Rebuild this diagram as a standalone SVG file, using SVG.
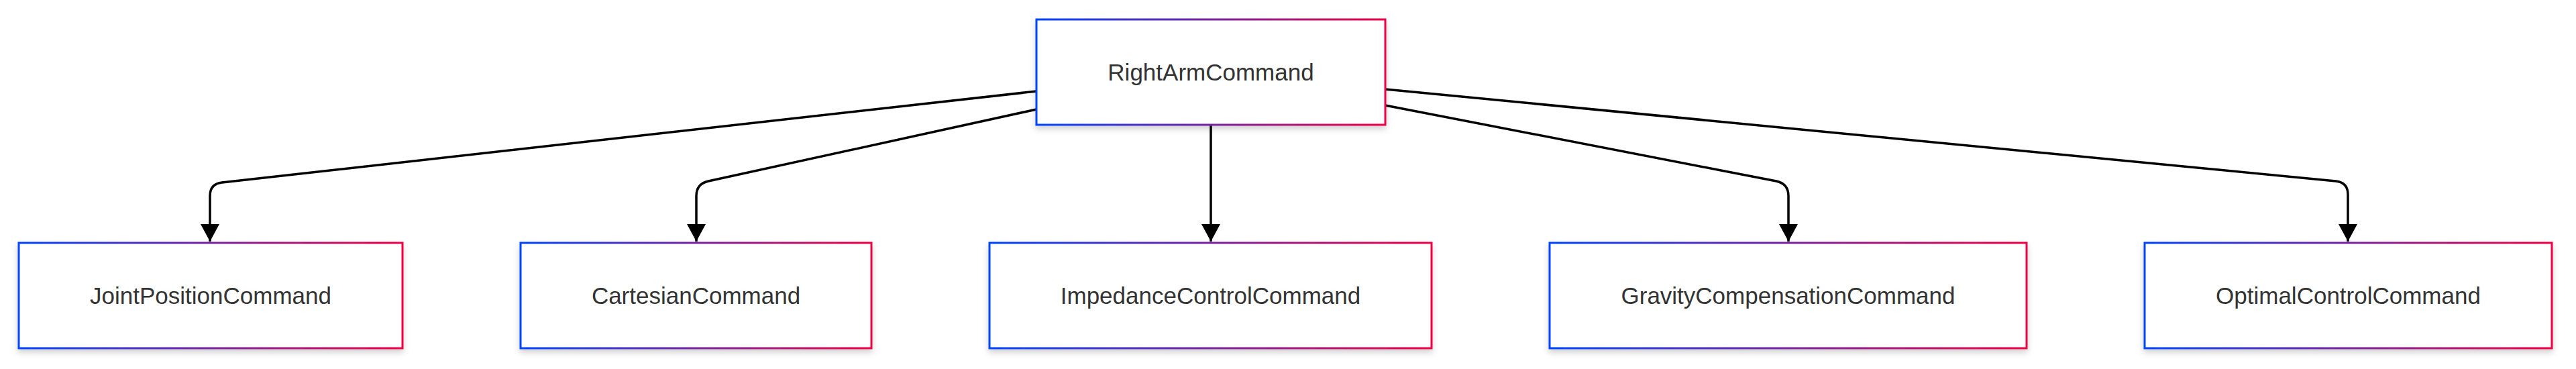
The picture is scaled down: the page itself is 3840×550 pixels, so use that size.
<svg xmlns="http://www.w3.org/2000/svg" width="3840" height="550" viewBox="0 0 3840 550">
  <defs>
    <linearGradient id="border" x1="0" y1="0" x2="1" y2="0">
      <stop offset="0" stop-color="#0044ff"/>
      <stop offset="1" stop-color="#f00044"/>
    </linearGradient>
    <filter id="shadow" x="-10%" y="-20%" width="120%" height="150%">
      <feDropShadow dx="0" dy="5" stdDeviation="5" flood-color="#000" flood-opacity="0.18"/>
    </filter>
    <marker id="arrow" markerUnits="userSpaceOnUse" markerWidth="28" markerHeight="28" refX="26" refY="14" orient="auto">
      <path d="M0,0 L26,14 L0,28 z" fill="#000"/>
    </marker>
  </defs>
  <style>
    .node rect { fill: #ffffff; stroke: url(#border); stroke-width: 3; filter: url(#shadow); }
    .node text { font-family: "Liberation Sans", Arial, sans-serif; font-size: 35px; fill: #333333; text-anchor: middle; }
    .edge { fill: none; stroke: #000; stroke-width: 3.5; marker-end: url(#arrow); }
  </style>
  <rect width="3840" height="550" fill="#ffffff"/>

  <g id="connectors">
    <path class="edge" d="M1545,136 L331,272 Q313,274 313,292 L313,360"/>
    <path class="edge" d="M1545,163 L1056,270 Q1038,274 1038,292 L1038,360"/>
    <path class="edge" d="M1805,186 L1805,360"/>
    <path class="edge" d="M2065,157 L2648,270 Q2666,274 2666,292 L2666,360"/>
    <path class="edge" d="M2065,133 L3482,270 Q3500,272 3500,290 L3500,360"/>
  </g>

  <g id="RightArmCommand" class="node">
    <rect x="1545" y="29" width="520" height="157"/>
    <text x="1805" y="119.5">RightArmCommand</text>
  </g>
  <g id="JointPositionCommand" class="node">
    <rect x="28" y="362" width="572" height="157"/>
    <text x="314" y="452.5">JointPositionCommand</text>
  </g>
  <g id="CartesianCommand" class="node">
    <rect x="776" y="362" width="523" height="157"/>
    <text x="1037.5" y="452.5">CartesianCommand</text>
  </g>
  <g id="ImpedanceControlCommand" class="node">
    <rect x="1475" y="362" width="659" height="157"/>
    <text x="1804.5" y="452.5">ImpedanceControlCommand</text>
  </g>
  <g id="GravityCompensationCommand" class="node">
    <rect x="2310" y="362" width="711" height="157"/>
    <text x="2665.5" y="452.5">GravityCompensationCommand</text>
  </g>
  <g id="OptimalControlCommand" class="node">
    <rect x="3197" y="362" width="607" height="157"/>
    <text x="3500.5" y="452.5">OptimalControlCommand</text>
  </g>
</svg>
